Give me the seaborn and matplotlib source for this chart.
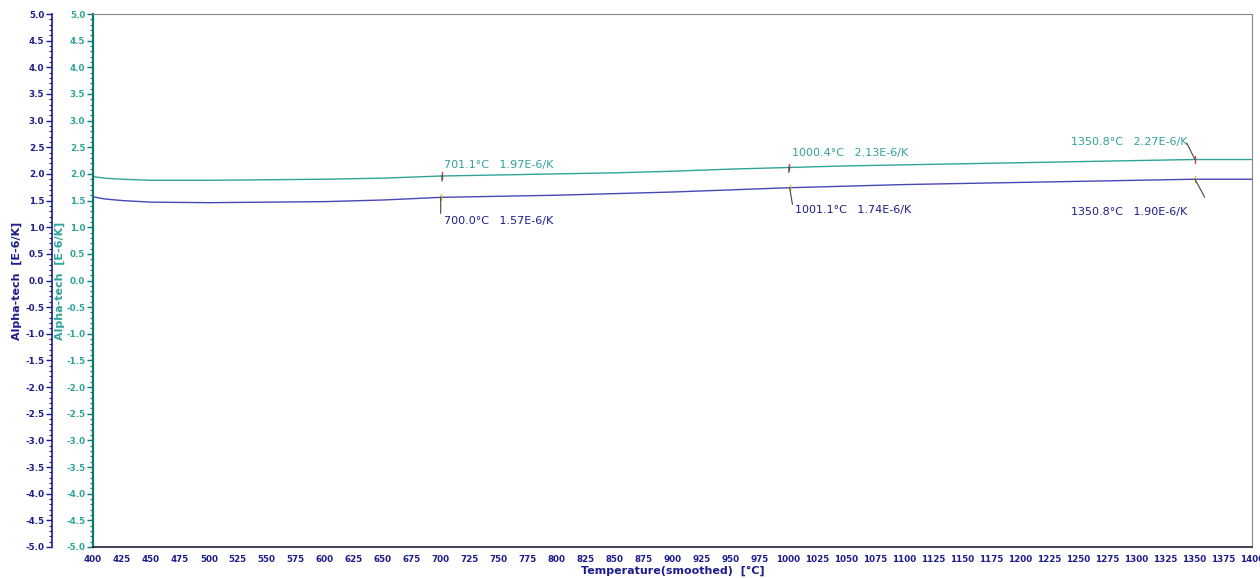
import numpy as np
import pandas as pd
import matplotlib
matplotlib.use('Agg')
import matplotlib.pyplot as plt
from matplotlib.ticker import MultipleLocator, FormatStrFormatter
import seaborn as sns

# data
temperature = [400, 410, 425, 450, 500, 550, 600, 650, 700, 750, 800, 850, 900,
               950, 1000, 1050, 1100, 1150, 1200, 1250, 1300, 1350, 1400]
alpha_teal = [1.95, 1.92, 1.90, 1.88, 1.88, 1.89, 1.90, 1.92, 1.96, 1.98, 2.00, 2.02, 2.05,
              2.09, 2.12, 2.15, 2.17, 2.19, 2.21, 2.23, 2.25, 2.27, 2.27]
alpha_blue = [1.57, 1.53, 1.50, 1.47, 1.46, 1.47, 1.48, 1.51, 1.56, 1.58, 1.60, 1.63, 1.66,
              1.70, 1.74, 1.77, 1.80, 1.82, 1.84, 1.86, 1.88, 1.90, 1.90]

teal_marks_x = [701.1, 1000.4, 1350.8]
teal_marks_y = [1.97, 2.13, 2.27]
blue_marks_x = [700.0, 1001.1, 1350.8]
blue_marks_y = [1.57, 1.74, 1.90]

teal = '#2fa39a'
teal_dark = '#0b7a70'
blue = '#4747b8'
navy = '#1c1c8c'

df = pd.DataFrame({'T': temperature, 'teal': alpha_teal, 'blue': alpha_blue})

sns.set_style('white')
plt.rcParams['font.family'] = ['DejaVu Sans']

fig = plt.figure(figsize=(12.6, 5.78), dpi=100)
ax = fig.add_axes([93 / 1260, 31 / 578, 1159 / 1260, 533 / 578])
ax2 = ax.twinx()

sns.lineplot(data=df, x='T', y='teal', ax=ax, color=teal, linewidth=1.0)
sns.lineplot(data=df, x='T', y='blue', ax=ax2, color=blue, linewidth=1.0)

for a in (ax, ax2):
    a.set_ylim(-5, 5)
    a.yaxis.set_major_locator(MultipleLocator(0.5))
    a.yaxis.set_minor_locator(MultipleLocator(0.1))
    a.yaxis.set_major_formatter(FormatStrFormatter('%.1f'))
ax.set_xlim(400, 1400)
ax.xaxis.set_major_locator(MultipleLocator(25))
ax.xaxis.set_minor_locator(MultipleLocator(5))

# main (teal) axis
ax.tick_params(axis='y', which='major', direction='out', length=4, width=1,
               colors=teal_dark, labelsize=6.3, pad=1.5)
ax.tick_params(axis='y', which='minor', direction='out', length=2, width=0.8, colors=teal_dark)
for lbl in ax.get_yticklabels():
    lbl.set_color(teal)
    lbl.set_fontweight('bold')
ax.tick_params(axis='x', which='major', direction='out', length=4, width=1,
               colors=navy, labelsize=6.3, pad=2)
ax.tick_params(axis='x', which='minor', direction='out', length=2, width=0.8, colors=navy)
for lbl in ax.get_xticklabels():
    lbl.set_fontweight('bold')
ax.set_xlabel('Temperature(smoothed)  [°C]', color=navy, fontsize=8, fontweight='bold', labelpad=1)
ax.set_ylabel('Alpha-tech  [E-6/K]', color=teal, fontsize=8, fontweight='bold')
ax.yaxis.set_label_coords(-0.0242, 0.5)
ax.spines['left'].set_color(teal_dark)
ax.spines['left'].set_linewidth(1.6)
ax.spines['bottom'].set_color('#222244')
ax.spines['bottom'].set_linewidth(1.2)
ax.spines['top'].set_color('#888888')
ax.spines['right'].set_color('#888888')

# second (blue) axis on the left, offset outward
ax2.yaxis.set_ticks_position('left')
ax2.yaxis.set_label_position('left')
ax2.spines['left'].set_position(('outward', 29.5))
ax2.spines['left'].set_visible(True)
ax2.spines['left'].set_color(navy)
ax2.spines['left'].set_linewidth(1.2)
for s in ('top', 'right', 'bottom'):
    ax2.spines[s].set_visible(False)
ax2.tick_params(axis='y', which='major', direction='out', length=4, width=1,
                colors=navy, labelsize=6.3, pad=1.5)
ax2.tick_params(axis='y', which='minor', direction='out', length=2, width=0.8, colors=navy)
for lbl in ax2.get_yticklabels():
    lbl.set_fontweight('bold')
ax2.set_ylabel('Alpha-tech  [E-6/K]', color=navy, fontsize=8, fontweight='bold')
ax2.yaxis.set_label_coords(-0.0613, 0.5)

# markers, short leader lines and labels
teal_leader = [(0, -4), (0, -4), (6, 12)]
teal_text_pos = [(703, 2.17, 'left'), (1003, 2.39, 'left'), (1344, 2.60, 'right')]
for x, y, (dx, dy), (tx, ty, ha) in zip(teal_marks_x, teal_marks_y, teal_leader, teal_text_pos):
    ax.plot([x, x], [y - 0.06, y + 0.06], color='#d04040', linewidth=1)
    ax.annotate('', xy=(x, y), xytext=(-dx, dy), textcoords='offset points',
                arrowprops=dict(arrowstyle='-', color='#444444', lw=0.8, shrinkA=0, shrinkB=0))
    ax.text(tx, ty, f'{x:.1f}°C   {y:.2f}E-6/K', ha=ha, va='center', color=teal, fontsize=8)

blue_leader = [(0, -12), (2, -12), (7, -13)]
blue_text_pos = [(703, 1.12, 'left'), (1006, 1.32, 'left'), (1344, 1.28, 'right')]
for x, y, (dx, dy), (tx, ty, ha) in zip(blue_marks_x, blue_marks_y, blue_leader, blue_text_pos):
    ax2.plot([x, x], [y - 0.06, y + 0.06], color='#d8c020', linewidth=1)
    ax2.annotate('', xy=(x, y), xytext=(dx, dy), textcoords='offset points',
                 arrowprops=dict(arrowstyle='-', color='#444444', lw=0.8, shrinkA=0, shrinkB=0))
    ax2.text(tx, ty, f'{x:.1f}°C   {y:.2f}E-6/K', ha=ha, va='center', color=navy, fontsize=8)

fig.savefig('out.png', dpi=100)
